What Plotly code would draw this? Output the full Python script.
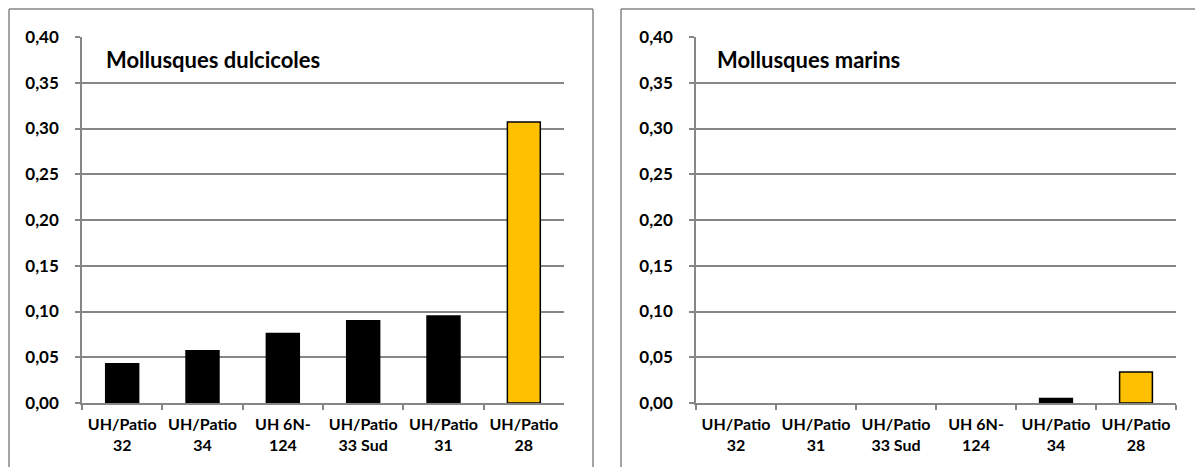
import plotly.graph_objects as go

# Data
cats_left = ["UH/Patio 32", "UH/Patio 34", "UH 6N-124", "UH/Patio 33 Sud", "UH/Patio 31", "UH/Patio 28"]
vals_left = [0.043, 0.057, 0.076, 0.090, 0.095, 0.307]
cats_right = ["UH/Patio 32", "UH/Patio 31", "UH/Patio 33 Sud", "UH 6N-124", "UH/Patio 34", "UH/Patio 28"]
vals_right = [0.0, 0.0, 0.0, 0.0, 0.005, 0.034]
title_left = "Mollusques dulcicoles"
title_right = "Mollusques marins"
highlight = "UH/Patio 28"
y_ticks = [0, 0.05, 0.10, 0.15, 0.20, 0.25, 0.30, 0.35, 0.40]

# page body has an 8px margin; keep the figure inside the window
OFF = 8
W, H = 1203 - 2 * OFF, 475 - 2 * OFF
FONT = "Lato"
GRID = "#868686"
YELLOW = "#FFC000"


def px_x(p):
    return (p - OFF) / W


def px_y(p):
    return 1 - (p - OFF) / H


def label(c):
    # two-line category labels as in the reference
    if c.startswith("UH/Patio "):
        return "UH/Patio<br>" + c[len("UH/Patio "):]
    if c == "UH 6N-124":
        return "UH 6N-<br>124"
    return c


fig = go.Figure()

for cats, vals, ax in [(cats_left, vals_left, ""), (cats_right, vals_right, "2")]:
    colors = [YELLOW if c == highlight else "black" for c in cats]
    widths = [1.5 if v > 0 else 0 for v in vals]
    fig.add_trace(go.Bar(
        x=[label(c) for c in cats], y=vals,
        marker=dict(color=colors, line=dict(color="black", width=widths)),
        xaxis="x" + ax, yaxis="y" + ax, showlegend=False,
    ))

tickfont = dict(family=FONT, size=16, color="black", weight="bold")

common_x = dict(
    type="category", showline=True, linecolor=GRID, linewidth=1.5,
    ticks="outside", tickson="boundaries", ticklen=5, tickcolor=GRID, tickwidth=1.5,
    tickfont=tickfont, showgrid=False, zeroline=False, fixedrange=True,
    automargin=False, ticklabelstandoff=6, tickangle=0,
)
common_y = dict(
    range=[0, 0.4], tickvals=y_ticks, tickformat=".2f",
    showline=True, linecolor=GRID, linewidth=1.5,
    ticks="outside", ticklen=5, tickcolor=GRID, tickwidth=1.5,
    showgrid=True, gridcolor=GRID, gridwidth=1.5, zeroline=False,
    tickfont=dict(family=FONT, size=17, color="black", weight="bold"),
    fixedrange=True, automargin=False, ticklabelstandoff=13,
)

fig.update_layout(
    width=W, height=H,
    margin=dict(l=0, r=0, t=0, b=0, pad=0),
    paper_bgcolor="white", plot_bgcolor="white",
    separators=", ",
    bargap=0.59,
    xaxis=dict(domain=[px_x(82), px_x(564)], anchor="y", **common_x),
    yaxis=dict(domain=[px_y(403), px_y(37)], anchor="x", **common_y),
    xaxis2=dict(domain=[px_x(696), px_x(1176)], anchor="y2", **common_x),
    yaxis2=dict(domain=[px_y(403), px_y(37)], anchor="x2", **common_y),
    annotations=[
        dict(text=title_left, xref="paper", yref="paper", x=px_x(104), y=px_y(60),
             xanchor="left", yanchor="middle", showarrow=False,
             font=dict(family=FONT, size=22, color="black", weight="bold")),
        dict(text=title_right, xref="paper", yref="paper", x=px_x(715), y=px_y(60),
             xanchor="left", yanchor="middle", showarrow=False,
             font=dict(family=FONT, size=22, color="black", weight="bold")),
    ],
    shapes=[
        # left chart frame (left, top, right sides)
        dict(type="line", xref="paper", yref="paper", x0=px_x(9), x1=px_x(9), y0=0, y1=px_y(9),
             line=dict(color=GRID, width=1.5)),
        dict(type="line", xref="paper", yref="paper", x0=px_x(9), x1=px_x(593), y0=px_y(9), y1=px_y(9),
             line=dict(color=GRID, width=1.5)),
        dict(type="line", xref="paper", yref="paper", x0=px_x(593), x1=px_x(593), y0=0, y1=px_y(9),
             line=dict(color=GRID, width=1.5)),
        # right chart frame
        dict(type="line", xref="paper", yref="paper", x0=px_x(621), x1=px_x(621), y0=0, y1=px_y(9),
             line=dict(color=GRID, width=1.5)),
        dict(type="line", xref="paper", yref="paper", x0=px_x(621), x1=1, y0=px_y(9), y1=px_y(9),
             line=dict(color=GRID, width=1.5)),
    ],
)

fig.write_html("out.html")
